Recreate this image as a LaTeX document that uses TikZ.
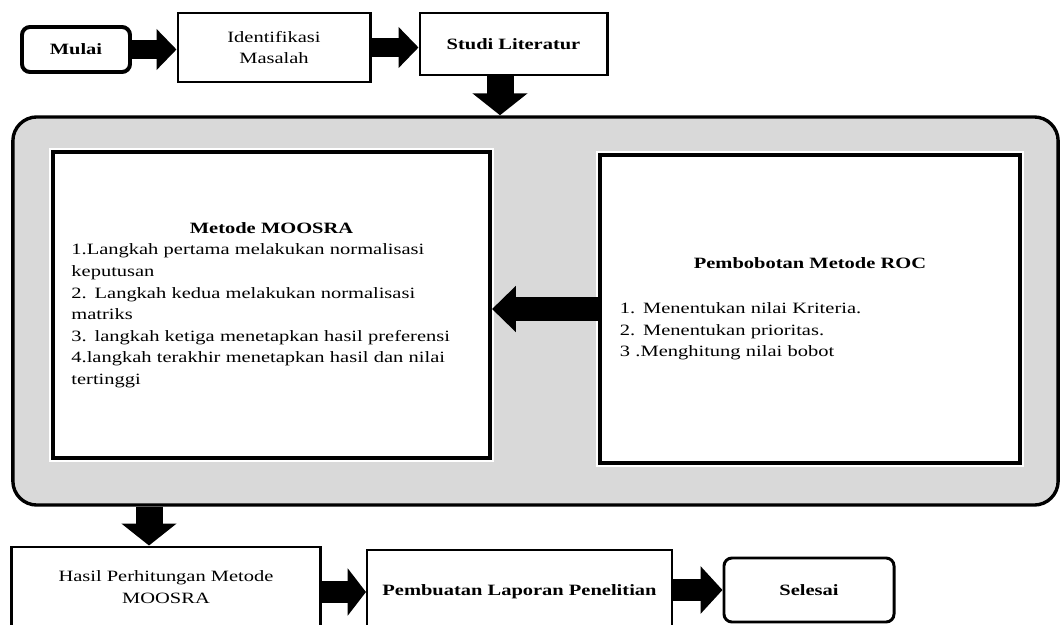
\documentclass[tikz,border=0pt]{standalone}
\usepackage{fontspec}
\setmainfont{Liberation Serif}[FakeStretch=1.3]
\usetikzlibrary{calc,arrows.meta}
\definecolor{panelGray}{RGB}{217,217,217}
\tikzset{
  stepbox/.style={draw=black,fill=white,line width=#1,inner sep=2pt,align=center,
    preaction={draw=white,line width=#1+3pt}},
  termbox/.style={stepbox=#1,rounded corners=0.2cm},
  fatarrow/.style n args={3}{draw=black,line width=#1,-{Triangle[length=#2,width=#3]}}
}

\begin{document}
\begin{tikzpicture}[x=0.025cm,y=-0.025cm,font=\fontsize{11.2}{15.3}\selectfont]
\path[use as bounding box] (0,0) rectangle (1062,624);
\clip (0,0) rectangle (1062,624);
\fill[white] (0,0) rectangle (1062,624);

% baris atas
\node[termbox=2.8pt,minimum width=2.7cm,minimum height=1.125cm] (mulai) at (76,49.5) {\textbf{Mulai}};
\node[stepbox=2.1pt,minimum width=4.8cm,minimum height=1.725cm] (ident) at (274,47.5) {Identifikasi\\Masalah};
\node[stepbox=2.1pt,minimum width=4.675cm,minimum height=1.55cm] (studi) at (513.5,44) {\textbf{Studi Literatur}};

% panel abu-abu
\node[draw=black,fill=panelGray,line width=2.4pt,rounded corners=0.6cm,
  minimum width=26.125cm,minimum height=9.7cm] (frame) at (535.5,311) {};
\node[stepbox=2.8pt,minimum width=10.925cm,minimum height=7.65cm,text width=10cm,align=left] (moosra) at (271.5,305) {%
  {\centering\textbf{Metode MOOSRA}\par}
  1.Langkah pertama melakukan normalisasi\\
  keputusan\\
  2. Langkah kedua melakukan normalisasi\\
  matriks\\
  3. langkah ketiga menetapkan hasil preferensi\\
  4.langkah terakhir menetapkan hasil dan nilai\\
  tertinggi};
\node[stepbox=2.8pt,minimum width=10.5cm,minimum height=7.7cm,text width=9.5cm,align=left] (roc) at (810,309) {%
  {\centering\textbf{Pembobotan Metode ROC}\par}\vspace{17pt}
  1. Menentukan nilai Kriteria.\\
  2. Menentukan prioritas.\\
  3 .Menghitung nilai bobot};

% baris bawah
\node[stepbox=2.1pt,minimum width=7.7cm,minimum height=2cm] (hasil) at (166,587) {Hasil Perhitungan Metode\\MOOSRA};
\node[stepbox=1.4pt,minimum width=7.625cm,minimum height=2.1cm] (buat) at (519.5,592) {\textbf{Pembuatan Laporan Penelitian}};
\node[termbox=2.1pt,minimum width=4.25cm,minimum height=1.6cm] (selesai) at (809,590) {\textbf{Selesai}};

% panah
\draw[fatarrow={14.2pt}{14.2pt}{28.4pt}] (mulai.east) -- (mulai.east -| ident.west);
\draw[fatarrow={14.2pt}{14.2pt}{28.4pt}] (ident.east) -- (ident.east -| studi.west);
\coordinate (s) at ($(studi.south)+(-13.5,0)$);
\draw[fatarrow={19.2pt}{15.6pt}{38.4pt}] (s) -- (s |- frame.north);
\draw[fatarrow={16.4pt}{17pt}{32pt}] (roc.west) -- (roc.west -| moosra.east);
\coordinate (h) at ($(hasil.north)+(-17,0)$);
\draw[fatarrow={19.2pt}{15.6pt}{38.4pt}] (h |- frame.south) -- (h);
\draw[fatarrow={15pt}{13pt}{33pt}] (buat.west -| hasil.east) -- (buat.west);
\draw[fatarrow={15pt}{15.6pt}{33pt}] (selesai.west -| buat.east) -- (selesai.west);
\end{tikzpicture}
\end{document}
